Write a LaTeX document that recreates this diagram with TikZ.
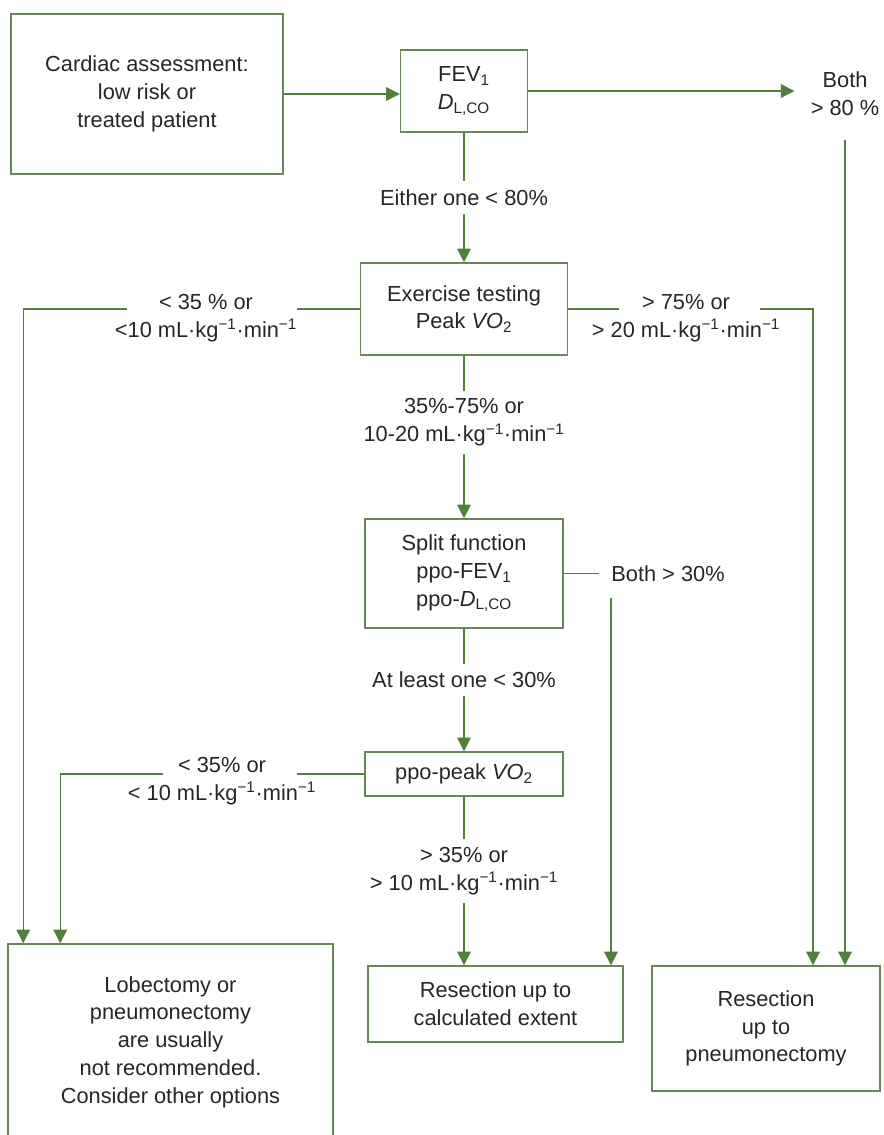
\documentclass[tikz,border=0pt]{standalone}
\usepackage{fontspec}
\setmainfont{Liberation Sans}
\usetikzlibrary{arrows.meta}
\definecolor{flowgreen}{RGB}{80,128,58}
\definecolor{boxgreen}{RGB}{104,134,88}
\definecolor{inkgray}{RGB}{38,38,38}
\tikzset{
      box/.style   = { draw=boxgreen, line width=1pt, align=center, inner sep=0pt, text=inkgray },
      link/.style  = { draw=flowgreen, line width=1pt },
      arr/.style   = { link, -{Triangle[length=0.34cm, width=0.34cm]} },
      lbl/.style   = { align=center, text=inkgray, inner xsep=1pt, inner ysep=0.2cm },
      gap/.style   = { lbl, fill=white }
    }
\newcommand{\rate}{mL·kg\textsuperscript{−1}·min\textsuperscript{−1}}

\begin{document}
\begin{tikzpicture}[x=0.025cm, y=-0.025cm, font=\fontsize{15.5pt}{19.7pt}\selectfont]
      \useasboundingbox (0,0) rectangle (883,1135);

      % Draw all boxes
      \node[box, minimum width=6.8cm,   minimum height=4cm]     (cardiac) at (147,94)    {Cardiac assessment:\\low risk or\\treated patient};
      \node[box, minimum width=3.175cm, minimum height=2.05cm]  (fev)     at (464,91)    {FEV\textsubscript{1}\\\textit{D}\textsubscript{L,CO}};
      \node[box, minimum width=5.175cm, minimum height=2.3cm]   (ex)      at (464,309)   {Exercise testing\\Peak \textit{VO}\textsubscript{2}};
      \node[box, minimum width=4.95cm,  minimum height=2.725cm] (split)   at (464,573.5) {Split function\\ppo-FEV\textsubscript{1}\\ppo-\textit{D}\textsubscript{L,CO}};
      \node[box, minimum width=4.95cm,  minimum height=1.1cm]   (ppo)     at (464,774)   {ppo-peak \textit{VO}\textsubscript{2}};
      \node[box, minimum width=8.125cm, minimum height=4.9cm]   (lob)     at (170.5,1042) {Lobectomy or\\pneumonectomy\\are usually\\not recommended.\\Consider other options};
      \node[box, minimum width=6.375cm, minimum height=1.9cm]   (calc)    at (495.5,1004) {Resection up to\\calculated extent};
      \node[box, minimum width=5.7cm,   minimum height=3.125cm] (pneu)    at (766,1028.5) {Resection\\up to\\pneumonectomy};

      % Draw free labels
      \node[lbl, inner xsep=0.4cm, inner ysep=0.6cm] (both) at (845,94) {Both\\> 80 \%};
      \node[lbl, inner xsep=0.3cm] (both30) at (668,573.5) {Both > 30\%};
      \node[lbl] (lowex)  at (206,318) {< 35 \% or\\<10 \rate};
      \node[lbl] (hiex)   at (686,318) {> 75\% or\\> 20 \rate};
      \node[lbl] (lowppo) at (222,781) {< 35\% or\\< 10 \rate};

      \coordinate (lowexA)  at (297,309);
      \coordinate (lowexB)  at (127,309);
      \coordinate (hiexA)   at (619,309);
      \coordinate (hiexB)   at (760,309);
      \coordinate (hiexC)   at (813,309);
      \coordinate (lowppoA) at (297,774);
      \coordinate (lowppoB) at (163,774);
      \coordinate (v30)     at (611,598);

      % Draw connectors
      \draw[arr] (cardiac.east) -- (cardiac.east -| fev.west);
      \draw[arr] (fev.east) -- (fev.east -| both.west);
      \draw[arr] (both.south) -- (both.south |- pneu.north);

      \draw[arr] (fev.south) -- node[gap] {Either one < 80\%} (ex.north);
      \draw[arr] (ex.south) -- node[gap, pos=0.41] {35\%-75\% or\\10-20 \rate} (split.north);
      \draw[arr] (split.south) -- node[gap, pos=0.42] {At least one < 30\%} (ppo.north);
      \draw[arr] (ppo.south) -- node[gap, pos=0.44] {> 35\% or\\> 10 \rate} (ppo.south |- calc.north);

      \draw[link] (ex.west) -- (lowexA);
      \draw[arr]  (lowexB) -| ([xshift=0.4cm]lob.north west);
      \draw[link] (ex.east) -- (hiexA);
      \draw[arr]  (hiexB) -- (hiexC) -- (hiexC |- pneu.north);

      \draw[link] (split.east) -- (split.east -| both30.west);
      \draw[arr]  (v30) -- (v30 |- calc.north);

      \draw[link] (ppo.west) -- (lowppoA);
      \draw[arr]  (lowppoB) -| ([xshift=1.325cm]lob.north west);
    \end{tikzpicture}
\end{document}
